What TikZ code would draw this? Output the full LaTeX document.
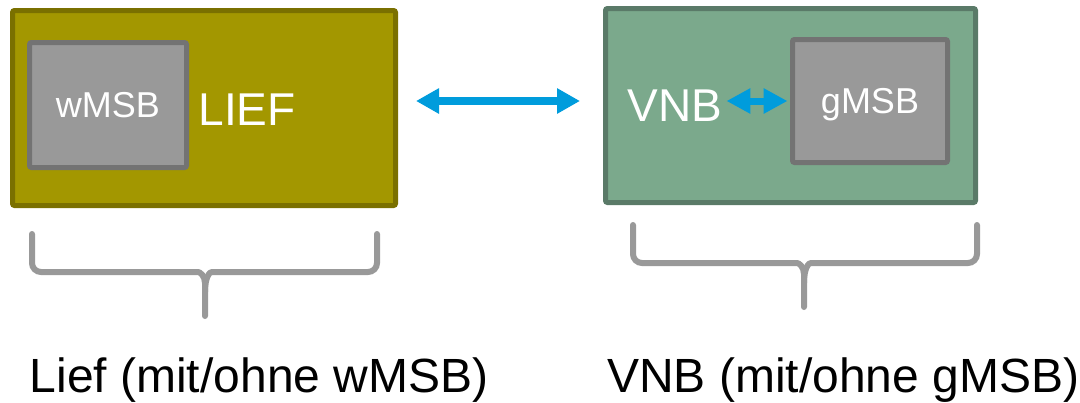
\documentclass[tikz,border=0pt]{standalone}
\usepackage{fontspec}
\setmainfont{Liberation Sans}
\usepackage{tikz}
\definecolor{liefolive}{HTML}{A39700}
\definecolor{liefedge}{HTML}{7A7000}
\definecolor{vnbgreen}{HTML}{7BA98C}
\definecolor{vnbedge}{HTML}{5A7A68}
\definecolor{msbgray}{HTML}{999999}
\definecolor{msbedge}{HTML}{737373}
\definecolor{linkblue}{HTML}{009CDC}
\usetikzlibrary{positioning, arrows.meta}
\tikzstyle{bigarrow} = [line width=8pt, draw=linkblue, {Triangle[length=23pt,width=24pt]}-{Triangle[length=23pt,width=24pt]}]
\tikzstyle{smallarrow} = [line width=7pt, draw=linkblue, {Triangle[length=24pt,width=24pt]}-{Triangle[length=24pt,width=24pt]}]
\tikzstyle{bracket} = [line width=6pt, draw=msbgray, rounded corners=9pt, line cap=round]

\begin{document}
\begin{tikzpicture}[x=1pt,y=-1pt]
                    \tikzstyle{every node}=[font=\fontsize{46}{50}\selectfont, text=white, inner sep=0pt]
                    \tikzstyle{outer} = [rectangle, rounded corners=2pt, line width=5pt]
                    \tikzstyle{msb} = [rectangle, rounded corners=2pt, line width=5pt,
                    draw=msbedge, fill=msbgray, text depth=0pt, font=\fontsize{36}{40}\selectfont]
                    \tikzstyle{caption} = [text=black, anchor=base west, font=\fontsize{48}{53}\selectfont]

                    \useasboundingbox (0,0) rectangle (1080,402);

                    % Lieferant
                    \node[outer, draw=liefedge, fill=liefolive, minimum width=383pt, minimum height=195pt](liefbox) at (204,108) {};
                    \node[msb, minimum width=157pt, minimum height=125pt](wmsb) at (108,105) {wMSB};
                    \node(lief) at (247,110) {LIEF};

                    % Netzbetreiber
                    \node[outer, draw=vnbedge, fill=vnbgreen, minimum width=370pt, minimum height=194pt](vnbbox) at (790.5,105.5) {};
                    \node[msb, minimum width=155pt, minimum height=123pt](gmsb) at (870,101) {gMSB};
                    \node(vnb) at (675,105.5) {VNB};

                    \coordinate (link) at (500,101);
                    \draw[bigarrow, shorten <=18pt, shorten >=23pt] (liefbox.east |- link) -- (vnbbox.west |- link);
                    \draw[smallarrow, shorten <=4pt, shorten >=2.5pt] (vnb.east |- gmsb.west) -- (gmsb.west);

                    % Klammern
                    \draw[bracket] (32,234) -- (32,272) -- (189,272) .. controls (200,272) and (205,276) .. (205,292) -- (205,316);
                    \draw[bracket] (377,234) -- (377,272) -- (221,272) .. controls (210,272) and (205,276) .. (205,292);
                    \draw[bracket] (633,225) -- (633,263) -- (788,263) .. controls (799,263) and (804,267) .. (804,283) -- (804,307);
                    \draw[bracket] (977,225) -- (977,263) -- (820,263) .. controls (809,263) and (804,267) .. (804,283);

                    \node[caption](liefcap) at (29.5,392) {Lief (mit/ohne wMSB)};
                    \node[caption](vnbcap) at (607,392) {VNB (mit/ohne gMSB)};
            \end{tikzpicture}
\end{document}
